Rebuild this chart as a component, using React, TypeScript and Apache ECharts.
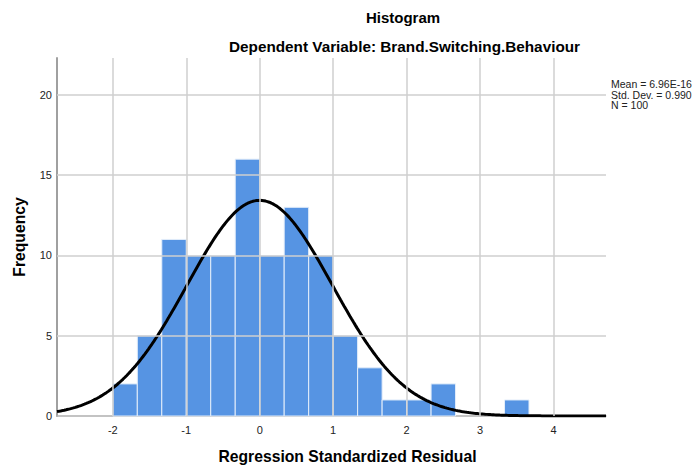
import React, { useEffect, useRef } from "react";
import * as echarts from "echarts";

// Histogram bins (lower edges) and frequencies
const binLower = [-2.0, -1.6667, -1.3333, -1.0, -0.6667, -0.3333, 0.0, 0.3333, 0.6667, 1.0, 1.3333, 1.6667, 2.0, 2.3333, 2.6667, 3.0, 3.3333];
const binWidth = 1 / 3;
const counts = [2, 5, 11, 10, 10, 16, 10, 13, 10, 5, 3, 1, 1, 2, 0, 0, 1];

// Summary statistics shown on chart
const meanVal = 6.96e-16;
const stdDev = 0.99;
const nObs = 100;
const statLines = ["Mean = 6.96E-16", "Std. Dev. = 0.990", "N = 100"];

const xTicks = [-2, -1, 0, 1, 2, 3, 4];
const yTicks = [0, 5, 10, 15, 20];
const xMin = -2.76;
const xMax = 4.715;
const yMax = 22.3;

const FONT = "'Liberation Sans', Arial, sans-serif";

export default function App() {
  const ref = useRef<HTMLDivElement>(null);
  useEffect(() => {
    if (!ref.current) return;
    const chart = echarts.init(ref.current, undefined, { renderer: "svg" });

    const barData = binLower.map((lo, i) => [lo, lo + binWidth, counts[i]]);

    // Fitted normal curve scaled to histogram (N * bin width * pdf)
    const curve: number[][] = [];
    const steps = 300;
    for (let k = 0; k <= steps; k++) {
      const x = xMin + ((xMax - xMin) * k) / steps;
      const z = (x - meanVal) / stdDev;
      const y = (nObs * binWidth * Math.exp(-0.5 * z * z)) / (stdDev * Math.sqrt(2 * Math.PI));
      curve.push([x, y]);
    }

    const gridLineStyle = { color: "#cfcfcf", width: 1.5, type: "solid" as const };

    chart.setOption({
      animation: false,
      textStyle: { fontFamily: FONT },
      grid: { left: 57, right: 87, top: 58, bottom: 50, containLabel: false },
      xAxis: {
        type: "value",
        min: xMin,
        max: xMax,
        axisLine: { show: true, onZero: false, lineStyle: { color: "#b0b0b0", width: 1.5 } },
        axisTick: { show: false },
        splitLine: { show: false },
        axisLabel: {
          customValues: xTicks,
          color: "#222",
          fontSize: 11,
          fontFamily: FONT,
          margin: 8,
        },
      },
      yAxis: {
        type: "value",
        min: 0,
        max: yMax,
        axisLine: { show: true, onZero: false, lineStyle: { color: "#a0a0a0", width: 2 } },
        axisTick: { show: false },
        splitLine: { show: false },
        axisLabel: {
          customValues: yTicks,
          color: "#222",
          fontSize: 11,
          fontFamily: FONT,
          margin: 5,
        },
      },
      series: [
        {
          type: "line",
          data: [],
          silent: true,
          z: 1,
          markLine: {
            silent: true,
            symbol: ["none", "none"],
            label: { show: false },
            lineStyle: gridLineStyle,
            emphasis: { disabled: true },
            data: [
              ...xTicks.map((v) => ({ xAxis: v })),
              ...yTicks.filter((v) => v > 0).map((v) => ({ yAxis: v })),
            ],
          },
        },
        {
          type: "custom",
          z: 2,
          silent: true,
          data: barData,
          renderItem: (params: any, api: any) => {
            const lo = api.value(0);
            const hi = api.value(1);
            const c = api.value(2);
            if (!c) return null;
            const p0 = api.coord([lo, c]);
            const p1 = api.coord([hi, 0]);
            return {
              type: "rect",
              shape: { x: p0[0], y: p0[1], width: p1[0] - p0[0], height: p1[1] - p0[1] },
              style: { fill: "#5694e3", stroke: "#e4eefa", lineWidth: 1 },
            };
          },
        },
        {
          type: "line",
          z: 3,
          data: curve,
          showSymbol: false,
          symbol: "none",
          smooth: false,
          silent: true,
          lineStyle: { color: "#000", width: 3 },
        },
      ],
      graphic: [
        {
          type: "text",
          x: 403,
          y: 17,
          style: { text: "Histogram", font: `bold 15px ${FONT}`, fill: "#000", align: "center", verticalAlign: "middle" },
        },
        {
          type: "text",
          x: 404.5,
          y: 46,
          style: {
            text: "Dependent Variable: Brand.Switching.Behaviour",
            font: `bold 15.3px ${FONT}`,
            fill: "#000",
            align: "center",
            verticalAlign: "middle",
          },
        },
        {
          type: "text",
          x: 347.5,
          y: 456,
          style: {
            text: "Regression Standardized Residual",
            font: `bold 15.7px ${FONT}`,
            fill: "#000",
            align: "center",
            verticalAlign: "middle",
          },
        },
        {
          type: "text",
          x: 19,
          y: 237,
          rotation: Math.PI / 2,
          style: {
            text: "Frequency",
            font: `bold 15.7px ${FONT}`,
            fill: "#000",
            align: "center",
            verticalAlign: "middle",
          },
        },
        ...statLines.map((t, i) => ({
          type: "text",
          x: 611,
          y: 84 + i * 10.5,
          style: { text: t, font: `10.5px ${FONT}`, fill: "#222", verticalAlign: "middle" },
        })),
      ],
    });
    return () => chart.dispose();
  }, []);
  return <div ref={ref} style={{ width: 693, height: 466, position: "absolute", left: 0, top: 0 }} />;
}
